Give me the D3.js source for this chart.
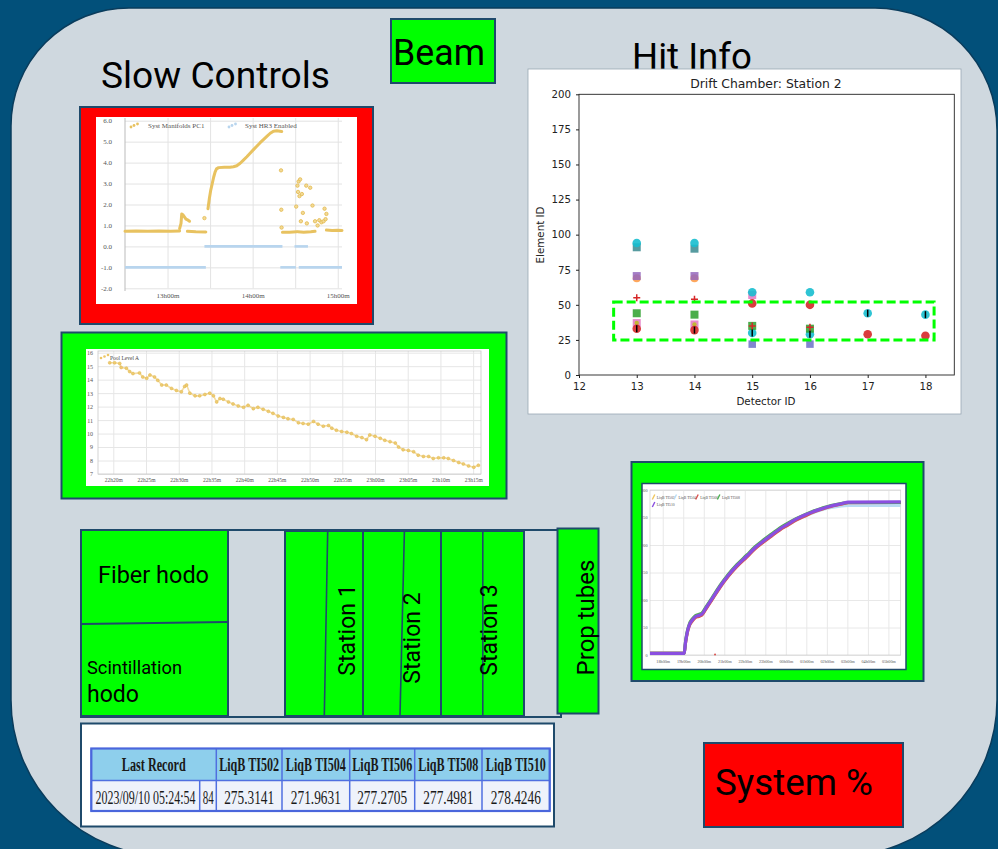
<!DOCTYPE html>
<html>
<head>
<meta charset="utf-8">
<script src="https://cdn.jsdelivr.net/npm/d3@7"></script>
<style>
body { margin: 0; background: #02507a; }
svg { display: block; }
</style>
</head>
<body>
<div id="chart"></div>
<script>
// Syst Manifolds PC1, [minutes after 12:00, value], runs of consecutive readings
var manifoldRuns = [
    [[30,0.72],[38,0.73],[46,0.72],[54,0.73],[62,0.72],[68.5,0.74]],
    [[68.5,0.85],[69.5,1.1],[70,1.55],[71,1.5],[72,1.4],[73,1.3],[74.5,1.25],[75.5,1.2]],
    [[74,0.72],[80,0.7],[87,0.69]],
    [[88.5,1.8],[89.5,2.3],[90.5,2.7],[91.5,3.0],[92.5,3.3],[93.5,3.55],[94.5,3.7],[96,3.76],[100,3.78],[104,3.78],[106.5,3.8],[108.8,3.85],[111.2,3.97],[113.5,4.12],[115.9,4.28],[118.2,4.45],[120.6,4.62],[122.9,4.78],[125.3,4.95],[127.6,5.1],[130,5.25],[132.4,5.4],[134.7,5.5],[137,5.52],[140.5,5.48]],
    [[141,0.68],[146,0.68],[151,0.7]],
    [[152,0.7],[156,0.68],[161,0.7],[164,0.72]],
    [[172,0.78],[176,0.76],[180,0.77],[183,0.76]]
];
var manifoldDots = [[86,1.35],[140,3.63],[140.2,1.75],[140.4,0.9],[150.7,1.9],[151.6,2.9],[152,2.6],[152.4,3.1],[153,2.4],[153.5,3.2],[154,1.2],[154.7,2.5],[155.4,1.6],[157.8,2.9],[158.2,1.1],[160.6,2.8],[162.2,1.95],[164,1.2],[165.8,1.0],[167,1.25],[168.5,1.15],[170,1.2],[170.7,1.8],[171.4,1.3],[172,1.55]];
// Syst HR3 Enabled
var hr3Runs = [
    [[30,-1],[87,-1]],
    [[86,0],[141,0]],
    [[139.5,-1],[150.5,-1]],
    [[149.5,0],[159,0]],
    [[152.5,-1],[183,-1]]
];
var slowYTicks = [-2,-1,0,1,2,3,4,5,6];
var slowXTicks = [60,90,120,150,180];
var slowXLabels = {60: "13h00m", 120: "14h00m", 180: "15h00m"};

// Pool Level A, [minutes after 22:00, level]
var poolLevel = [[19.45,15.25],[20.2,15.25],[20.98,15.2],[21.2,14.9],[22.0,14.85],[22.5,14.6],[23.0,14.45],[24.0,14.5],[24.5,14.2],[25.1,14.1],[25.6,14.35],[26.3,14.2],[26.8,13.95],[27.4,13.6],[28.1,13.6],[28.9,13.35],[29.65,13.2],[30.4,13.1],[30.9,13.5],[31.2,13.6],[31.7,13.0],[32.5,12.8],[33.2,12.8],[34.0,12.9],[34.75,13.0],[35.3,12.8],[35.8,12.35],[36.3,12.6],[36.8,12.55],[37.6,12.35],[38.3,12.2],[39.1,12.05],[39.9,11.95],[40.6,12.1],[41.4,11.85],[42.1,11.95],[42.9,11.8],[43.7,11.65],[44.4,11.5],[45.2,11.3],[46.0,11.2],[46.7,11.1],[47.5,11.05],[48.3,10.8],[49.0,10.75],[49.8,10.7],[50.6,10.9],[51.3,10.7],[52.1,10.55],[52.9,10.6],[53.4,10.4],[54.1,10.25],[54.9,10.15],[55.7,10.1],[56.4,10.0],[57.2,9.8],[58.0,9.7],[58.7,9.55],[59.2,9.9],[60.0,9.8],[60.8,9.65],[61.5,9.5],[62.3,9.4],[63.1,9.3],[63.6,9.0],[64.3,8.8],[65.1,8.75],[65.9,8.65],[66.6,8.4],[67.4,8.3],[68.2,8.3],[68.9,8.15],[69.7,8.2],[70.5,8.2],[71.2,8.15],[72.0,8.0],[72.8,7.85],[73.5,7.75],[74.3,7.6],[75.1,7.5],[75.8,7.65]];
var poolYTicks = [7,8,9,10,11,12,13,14,15,16];
var poolXTicks = [20,25,30,35,40,45,50,55,60,65,70,75];

// Drift chamber station 2 hits, [detector ID, element ID]
var hitPinkSq = [[13,37],[14,36],[15,57]];
var hitOlive = [[13,37],[14,36]];
var hitOrange = [[13,69],[14,69]];
var hitPurpleSq = [[13,70.5],[14,70.5]];
var hitBlueSq = [[13,91],[14,90]];
var hitCyan = [[13,94],[14,94],[15,59],[16,59],[15,30],[16,29],[17,44],[18,43]];
var hitGreenSq = [[13,44],[14,43],[15,35],[16,33]];
var hitRed = [[13,33],[14,32],[15,51],[16,50],[17,29],[18,28]];
var hitRedPlus = [[13,55],[14,54],[15,35],[16,34]];
var hitSlateSq = [[15,22],[16,22]];
var hitBlackBar = [[13,33],[14,32],[15,30],[16,29],[17,44],[18,43]];
var hitXTicks = [12,13,14,15,16,17,18];
var hitYTicks = [0,25,50,75,100,125,150,175,200];
var hitWindow = {det: [12.6, 18.15], elem: [25, 52]};

// LiqB temperatures, hours after 00:00 of the first day
var liqbHours = [17.38,19.05,19.1,19.2,19.3,19.45,19.6,19.75,19.9,20.1,20.4,20.8,21.2,21.6,22.1,22.5,22.9,23.3,23.7,24.1,24.5,24.9,25.35,25.75,26.2,26.7,27.05,29.6];
var liqbTI502 = [3,3,19,41,54,63,69,71,73,84,101,124,144,161,179,194,206,217,228,237,246,253,260,265,270,274,275.3,275.3];
var liqbTI504 = [3,3,20,42,55,64,70,72,74,85,102,125,145,162,180,195,206,217,228,236,245,252,259,264,268,271,272,272];
var liqbTI506 = [3,3,18,40,53,62,68,70,72,83,100,123,143,160,178,193,205,216,227,236,245,252,260,265,270,274,277,277.3];
var liqbTI508 = [3,3,22,44,57,66,72,74,76,87,104,127,147,164,182,197,209,220,231,240,248,255,262,267,272,275.5,277.5,277.5];
var liqbTI510 = [3,3,20,42,55,64,70,72,74,85,102,125,145,162,180,195,207,218,229,238,247,254,261,266,271,275,278,278.4];
var liqbStray = [[20.55,1]];
var liqbNames = ["LiqB TI502","LiqB TI504","LiqB TI506","LiqB TI508","LiqB TI510"];
var liqbColors = ["#f0c75e","#b9dcf3","#d9534f","#4caf50","#8a4fe0"];
var liqbYTicks = [0,50,100,150,200,250,300];
var liqbXTicks = [18,19,20,21,22,23,24,25,26,27,28,29];

// last record table
var tableHeader = ["Last Record","LiqB TI502","LiqB TI504","LiqB TI506","LiqB TI508","LiqB TI510"];
var lastRecordTime = "2023/09/10 05:24:54";
var lastRecordCount = "84";
var lastRecordValues = ["275.3141","271.9631","277.2705","277.4981","278.4246"];

var W = 998, H = 849;
var navy = "#1f4a6b";
var svg = d3.select("#chart").append("svg").attr("width", W).attr("height", H);

svg.append("rect").attr("width", W).attr("height", H).attr("fill", "#02507a");

function panelPath(x0, y0, x1, y1, rtl, rtr, rbr, rbl) {
    return "M" + (x0 + rtl) + "," + y0 +
        "L" + (x1 - rtr) + "," + y0 +
        "A" + rtr + "," + rtr + " 0 0 1 " + x1 + "," + (y0 + rtr) +
        "L" + x1 + "," + (y1 - rbr) +
        "A" + rbr + "," + rbr + " 0 0 1 " + (x1 - rbr) + "," + y1 +
        "L" + (x0 + rbl) + "," + y1 +
        "A" + rbl + "," + rbl + " 0 0 1 " + x0 + "," + (y1 - rbl) +
        "L" + x0 + "," + (y0 + rtl) +
        "A" + rtl + "," + rtl + " 0 0 1 " + (x0 + rtl) + "," + y0 + "Z";
}

svg.append("path")
    .attr("d", panelPath(11, 8, 997, 856, 118, 122, 156, 156))
    .attr("fill", "#cfd8df")
    .attr("stroke", "#0a3c5c")
    .attr("stroke-width", 1.5);

function box(x, y, w, h, fill) {
    return svg.append("rect")
        .attr("x", x).attr("y", y).attr("width", w).attr("height", h)
        .attr("fill", fill)
        .attr("stroke", navy)
        .attr("stroke-width", 2);
}

function label(x, y, txt, size, len) {
    var t = svg.append("text")
        .attr("x", x).attr("y", y)
        .style("font-family", "Roboto, sans-serif")
        .style("font-size", size + "px")
        .attr("fill", "#000")
        .text(txt);
    if (len) t.attr("textLength", len).attr("lengthAdjust", "spacingAndGlyphs");
    return t;
}

function styleAxis(g, font, size, textColor, lineColor) {
    g.selectAll("text")
        .style("font-family", font)
        .style("font-size", size + "px")
        .attr("fill", textColor);
    g.selectAll(".tick line").attr("stroke", lineColor);
    g.select(".domain").attr("stroke", "none");
}

// headings
label(101, 88, "Slow Controls", 36, 229);
box(391, 19, 104, 64, "#00ff00");
label(393, 65, "Beam", 37, 92);
label(632, 68.5, "Hit Info", 37, 120);

// ---------- slow controls chart 1 ----------
box(80, 107, 293, 217, "#ff0000");
svg.append("rect").attr("x", 96).attr("y", 117).attr("width", 261).attr("height", 187).attr("fill", "#fff");

var sx1 = d3.scaleLinear().domain([30, 183]).range([125, 342]);
var sy1 = d3.scaleLinear().domain([-2, 6]).range([288.3, 120.7]);

var gy1 = svg.append("g").attr("transform", "translate(125,0)")
    .call(d3.axisLeft(sy1).tickValues(slowYTicks).tickSize(-(342 - 125)).tickPadding(13)
        .tickFormat(function(d) { return d.toFixed(1); }));
styleAxis(gy1, "Liberation Serif, serif", 7, "#555", "#e3e3e3");

var gx1 = svg.append("g").attr("transform", "translate(0,288.3)")
    .call(d3.axisBottom(sx1).tickValues(slowXTicks).tickSize(-(288.3 - 118)).tickPadding(5)
        .tickFormat(function(d) { return slowXLabels[d] || ""; }));
styleAxis(gx1, "Liberation Serif, serif", 7, "#555", "#e3e3e3");

svg.append("line").attr("x1", 125).attr("x2", 125).attr("y1", 118).attr("y2", 291)
    .attr("stroke", "#bbb").attr("stroke-width", 1);

var line1 = d3.line()
    .x(function(d) { return sx1(d[0]); })
    .y(function(d) { return sy1(d[1]); });

svg.append("g").selectAll("path")
    .data(hr3Runs)
    .enter().append("path")
    .attr("d", line1)
    .attr("fill", "none")
    .attr("stroke", "#b8d5ee")
    .attr("stroke-width", 2.6);

svg.append("g").selectAll("path")
    .data(manifoldRuns)
    .enter().append("path")
    .attr("d", line1)
    .attr("fill", "none")
    .attr("stroke", "#e8c260")
    .attr("stroke-width", 3)
    .attr("stroke-linecap", "round")
    .attr("stroke-linejoin", "round");

svg.append("g").selectAll("circle")
    .data(manifoldDots)
    .enter().append("circle")
    .attr("cx", function(d) { return sx1(d[0]); })
    .attr("cy", function(d) { return sy1(d[1]); })
    .attr("r", 1.7)
    .attr("fill", "#f3da95")
    .attr("stroke", "#e2b94e")
    .attr("stroke-width", 0.8);

// legend chart 1
[[131, 127], [134, 125.5], [137.5, 124]].forEach(function(p) {
    svg.append("circle").attr("cx", p[0]).attr("cy", p[1]).attr("r", 1.4).attr("fill", "#e8c260");
    svg.append("circle").attr("cx", p[0] + 98).attr("cy", p[1]).attr("r", 1.4).attr("fill", "#b8d5ee");
});
svg.append("text").attr("x", 148).attr("y", 127.5).text("Syst Manifolds PC1")
    .style("font-family", "Liberation Serif, serif").style("font-size", "7px").attr("fill", "#555");
svg.append("text").attr("x", 245).attr("y", 127.5).text("Syst HR3 Enabled")
    .style("font-family", "Liberation Serif, serif").style("font-size", "7px").attr("fill", "#555");

// ---------- slow controls chart 2 ----------
box(61.5, 332.5, 445, 166, "#00ff00");
svg.append("rect").attr("x", 86).attr("y", 349).attr("width", 403).attr("height", 137).attr("fill", "#fff");

var sx2 = d3.scaleLinear().domain([17.66, 76.2]).range([98, 481]);
var sy2 = d3.scaleLinear().domain([7, 16]).range([474, 352.7]);

var gy2 = svg.append("g").attr("transform", "translate(98,0)")
    .call(d3.axisLeft(sy2).tickValues(poolYTicks).tickSize(-(481 - 98)).tickPadding(5));
styleAxis(gy2, "Liberation Serif, serif", 6, "#555", "#e6e6e6");

var gx2 = svg.append("g").attr("transform", "translate(0,474)")
    .call(d3.axisBottom(sx2).tickValues(poolXTicks).tickSize(-(474 - 351)).tickPadding(4.5)
        .tickFormat(function(d) {
            var h = 22 + Math.floor(d / 60), m = d % 60;
            return h + "h" + (m < 10 ? "0" + m : m) + "m";
        }));
styleAxis(gx2, "Liberation Serif, serif", 5.5, "#555", "#e6e6e6");

svg.append("rect").attr("x", 98).attr("y", 351).attr("width", 383).attr("height", 123)
    .attr("fill", "none").attr("stroke", "#c8c8c8").attr("stroke-width", 0.8);

var line2 = d3.line()
    .x(function(d) { return sx2(d[0]); })
    .y(function(d) { return sy2(d[1]); });

svg.append("path").datum(poolLevel)
    .attr("d", line2)
    .attr("fill", "none")
    .attr("stroke", "#ecc766")
    .attr("stroke-width", 1.6)
    .attr("stroke-opacity", 0.6);

svg.append("g").selectAll("circle")
    .data(poolLevel)
    .enter().append("circle")
    .attr("cx", function(d) { return sx2(d[0]); })
    .attr("cy", function(d) { return sy2(d[1]); })
    .attr("r", 1.5)
    .attr("fill", "#edcb72")
    .attr("stroke", "#e0b64c")
    .attr("stroke-width", 0.5);

[[101, 358], [104.5, 356.5], [108, 355]].forEach(function(p) {
    svg.append("circle").attr("cx", p[0]).attr("cy", p[1]).attr("r", 1.3).attr("fill", "#ecc766");
});
svg.append("text").attr("x", 110).attr("y", 360).text("Pool Level A")
    .style("font-family", "Liberation Serif, serif").style("font-size", "5.5px").attr("fill", "#444");

// ---------- hit info chart ----------
svg.append("rect").attr("x", 528).attr("y", 69).attr("width", 433).attr("height", 345)
    .attr("fill", "#fff").attr("stroke", "#9aa8b3").attr("stroke-width", 0.8);

var hx = d3.scaleLinear().domain([12, 18.5]).range([579, 954.3]);
var hy = d3.scaleLinear().domain([0, 200]).range([375, 94.3]);

var hgx = svg.append("g").attr("transform", "translate(0,375)")
    .call(d3.axisBottom(hx).tickValues(hitXTicks).tickSize(3).tickPadding(5).tickFormat(d3.format("d")));
var hgy = svg.append("g").attr("transform", "translate(579,0)")
    .call(d3.axisLeft(hy).tickValues(hitYTicks).tickSize(3).tickPadding(5).tickFormat(d3.format("d")));
[hgx, hgy].forEach(function(g) {
    styleAxis(g, "DejaVu Sans, sans-serif", 10.2, "#222", "#222");
});

svg.append("rect").attr("x", 579).attr("y", 94.3).attr("width", 954.3 - 579).attr("height", 375 - 94.3)
    .attr("fill", "none").attr("stroke", "#222").attr("stroke-width", 0.9);

svg.append("text").attr("x", 766).attr("y", 88).attr("text-anchor", "middle")
    .text("Drift Chamber: Station 2")
    .style("font-family", "DejaVu Sans, sans-serif").style("font-size", "12.4px").attr("fill", "#222");
svg.append("text").attr("x", 766).attr("y", 405).attr("text-anchor", "middle")
    .text("Detector ID")
    .style("font-family", "DejaVu Sans, sans-serif").style("font-size", "10.3px").attr("fill", "#222");
svg.append("text").attr("transform", "translate(544,235) rotate(-90)").attr("text-anchor", "middle")
    .text("Element ID")
    .style("font-family", "DejaVu Sans, sans-serif").style("font-size", "10.3px").attr("fill", "#222");

var hitLayer = svg.append("g");

function hitSquares(data, color, s) {
    hitLayer.selectAll(null).data(data).enter().append("rect")
        .attr("x", function(d) { return hx(d[0]) - s / 2; })
        .attr("y", function(d) { return hy(d[1]) - s / 2; })
        .attr("width", s).attr("height", s)
        .attr("fill", color).attr("fill-opacity", 0.85);
}

function hitCircles(data, color, r) {
    hitLayer.selectAll(null).data(data).enter().append("circle")
        .attr("cx", function(d) { return hx(d[0]); })
        .attr("cy", function(d) { return hy(d[1]); })
        .attr("r", r)
        .attr("fill", color).attr("fill-opacity", 0.9);
}

hitSquares(hitPinkSq, "#e377c2", 8);
hitCircles(hitOlive, "#bcbd22", 2.2);
hitCircles(hitOrange, "#ff9f4a", 4);
hitSquares(hitPurpleSq, "#9467bd", 8);
hitSquares(hitBlueSq, "#3a8a8f", 8);
hitCircles(hitCyan, "#17becf", 4.3);
hitSquares(hitGreenSq, "#2ca02c", 8);
hitCircles(hitRed, "#d62728", 4.3);
hitSquares(hitSlateSq, "#6c70c8", 7.5);

hitLayer.selectAll(null).data(hitRedPlus).enter().append("path")
    .attr("d", function(d) {
        var x = hx(d[0]), y = hy(d[1]);
        return "M" + (x - 3.5) + "," + y + "H" + (x + 3.5) + "M" + x + "," + (y - 3.5) + "V" + (y + 3.5);
    })
    .attr("stroke", "#d62728").attr("stroke-width", 1.5);

hitLayer.selectAll(null).data(hitBlackBar).enter().append("line")
    .attr("x1", function(d) { return hx(d[0]); })
    .attr("x2", function(d) { return hx(d[0]); })
    .attr("y1", function(d) { return hy(d[1]) - 3.5; })
    .attr("y2", function(d) { return hy(d[1]) + 3.5; })
    .attr("stroke", "#000").attr("stroke-width", 1.5);

svg.append("rect")
    .attr("x", hx(hitWindow.det[0])).attr("y", hy(hitWindow.elem[1]))
    .attr("width", hx(hitWindow.det[1]) - hx(hitWindow.det[0]))
    .attr("height", hy(hitWindow.elem[0]) - hy(hitWindow.elem[1]))
    .attr("fill", "none").attr("stroke", "#00ff00").attr("stroke-width", 3)
    .attr("stroke-dasharray", "9,4");

// ---------- LiqB chart ----------
box(631.5, 462, 292, 219, "#00ff00");
svg.append("rect").attr("x", 642).attr("y", 483.5).attr("width", 264).attr("height", 186)
    .attr("fill", "#fff").attr("stroke", navy).attr("stroke-width", 1.5);

var lx = d3.scaleLinear().domain([17.38, 29.6]).range([650, 900.7]);
var ly = d3.scaleLinear().domain([0, 300]).range([655, 490]);

var lgy = svg.append("g").attr("transform", "translate(650,0)")
    .call(d3.axisLeft(ly).tickValues(liqbYTicks).tickSize(-(900.7 - 650)).tickPadding(2.5));
styleAxis(lgy, "Liberation Serif, serif", 4.2, "#555", "#e8e8e8");
var lgx = svg.append("g").attr("transform", "translate(0,655)")
    .call(d3.axisBottom(lx).tickValues(liqbXTicks).tickSize(-(655 - 490)).tickPadding(5)
        .tickFormat(function(d) {
            var h = d % 24;
            return (h < 10 ? "0" + h : h) + "h00m";
        }));
styleAxis(lgx, "Liberation Serif, serif", 4.2, "#555", "#e8e8e8");
svg.append("rect").attr("x", 650).attr("y", 490).attr("width", 250.7).attr("height", 165)
    .attr("fill", "none").attr("stroke", "#cfcfcf").attr("stroke-width", 0.7);

var liqbSeries = [liqbTI502, liqbTI504, liqbTI506, liqbTI508, liqbTI510];
var line3 = d3.line()
    .x(function(d, i) { return lx(liqbHours[i]); })
    .y(function(d) { return ly(d); })
    .curve(d3.curveMonotoneX);

svg.append("g").selectAll("path")
    .data(liqbSeries)
    .enter().append("path")
    .attr("d", line3)
    .attr("fill", "none")
    .attr("stroke", function(d, i) { return liqbColors[i]; })
    .attr("stroke-width", function(d, i) { return i == 4 ? 3.2 : 3; });

svg.selectAll(null).data(liqbStray).enter().append("circle")
    .attr("cx", function(d) { return lx(d[0]); })
    .attr("cy", function(d) { return ly(d[1]); })
    .attr("r", 1).attr("fill", "#d9534f");

liqbNames.forEach(function(n, i) {
    var lxp = i < 4 ? 653.3 + i * 21.7 : 653.3;
    var lyp = i < 4 ? 497.5 : 505;
    svg.append("path")
        .attr("d", "M" + (lxp - 1) + "," + (lyp + 2) + "L" + (lxp + 1.5) + "," + (lyp - 3))
        .attr("stroke", liqbColors[i]).attr("stroke-width", 1.4);
    svg.append("text").attr("x", lxp + 3.5).attr("y", lyp + 1).text(n)
        .style("font-family", "Liberation Serif, serif").style("font-size", "3.8px").attr("fill", "#555");
});

// ---------- detector boxes ----------
svg.append("rect").attr("x", 81).attr("y", 530).attr("width", 480).attr("height", 187)
    .attr("fill", "none").attr("stroke", navy).attr("stroke-width", 2);
box(81, 530, 147, 186, "#00ff00");
svg.append("line").attr("x1", 82).attr("y1", 624).attr("x2", 227).attr("y2", 622)
    .attr("stroke", navy).attr("stroke-width", 1.8);
label(98, 583, "Fiber hodo", 23, 111);
label(87, 673.7, "Scintillation", 18.5, 95);
label(87, 701.7, "hodo", 23.5, 52);

box(285, 531, 78, 185, "#00ff00");
box(363, 531, 78, 185, "#00ff00");
box(441, 531, 83, 185, "#00ff00");
[[327.7, 324.3], [404.4, 400], [482.8, 482.8]].forEach(function(d) {
    svg.append("line").attr("x1", d[0]).attr("y1", 531).attr("x2", d[1]).attr("y2", 716)
        .attr("stroke", navy).attr("stroke-width", 1.6);
});
box(557.5, 528.5, 41, 185, "#00ff00");

svg.append("text").attr("transform", "translate(355,630) rotate(-90)").attr("text-anchor", "middle")
    .style("font-family", "Roboto, sans-serif").style("font-size", "23px").text("Station 1");
svg.append("text").attr("transform", "translate(420,638) rotate(-90)").attr("text-anchor", "middle")
    .style("font-family", "Roboto, sans-serif").style("font-size", "23px").text("Station 2");
svg.append("text").attr("transform", "translate(497,630) rotate(-90)").attr("text-anchor", "middle")
    .style("font-family", "Roboto, sans-serif").style("font-size", "23px").text("Station 3");
svg.append("text").attr("transform", "translate(594,617.5) rotate(-90)").attr("text-anchor", "middle")
    .style("font-family", "Roboto, sans-serif").style("font-size", "24px").text("Prop tubes");

// ---------- last record table ----------
box(81, 723.5, 473, 103, "#fff");

var colX = [91.3, 216.3, 282, 349.7, 414.7, 482, 549.7];
var splitX = 199.7;
var rowY = [748.5, 780.5, 811];

svg.append("rect").attr("x", colX[0]).attr("y", rowY[0]).attr("width", colX[6] - colX[0]).attr("height", rowY[1] - rowY[0])
    .attr("fill", "#8ecfec");
svg.append("rect").attr("x", colX[0]).attr("y", rowY[1]).attr("width", colX[6] - colX[0]).attr("height", rowY[2] - rowY[1])
    .attr("fill", "#eef2fb");
colX.forEach(function(x) {
    svg.append("line").attr("x1", x).attr("x2", x).attr("y1", rowY[0]).attr("y2", rowY[2])
        .attr("stroke", "#4f6fe0").attr("stroke-width", 1.5);
});
svg.append("line").attr("x1", splitX).attr("x2", splitX).attr("y1", rowY[1]).attr("y2", rowY[2])
    .attr("stroke", "#4f6fe0").attr("stroke-width", 1.5);
svg.append("line").attr("x1", colX[0]).attr("x2", colX[6]).attr("y1", rowY[1]).attr("y2", rowY[1])
    .attr("stroke", "#4f6fe0").attr("stroke-width", 1.5);
svg.append("rect").attr("x", colX[0]).attr("y", rowY[0]).attr("width", colX[6] - colX[0]).attr("height", rowY[2] - rowY[0])
    .attr("fill", "none").attr("stroke", "#4a66dc").attr("stroke-width", 2.2);

// condensed serif cell text: squeeze horizontally to the width seen in the table
function cellText(x, y, txt, bold, len) {
    var t = svg.append("text")
        .attr("text-anchor", "middle")
        .style("font-family", "Liberation Serif, serif")
        .style("font-size", "19px")
        .style("font-weight", bold ? "bold" : "normal")
        .attr("fill", "#1a1a1a")
        .text(txt);
    var natural = t.node().getComputedTextLength();
    t.attr("transform", "translate(" + x + "," + y + ") scale(" + (len / natural) + ",1)");
}

tableHeader.forEach(function(h, i) {
    var cx = (colX[i] + colX[i + 1]) / 2;
    cellText(cx, 771, h, true, i == 0 ? 64 : 60);
});
cellText((colX[0] + splitX) / 2, 803.5, lastRecordTime, false, 100);
cellText((splitX + colX[1]) / 2 + 0.3, 803.5, lastRecordCount, false, 11);
lastRecordValues.forEach(function(v, i) {
    cellText((colX[i + 1] + colX[i + 2]) / 2, 803.5, v, false, 50);
});

// ---------- system box ----------
box(704, 743, 199, 84, "#ff0000");
label(715, 795, "System %", 36, 158);
</script>
</body>
</html>
